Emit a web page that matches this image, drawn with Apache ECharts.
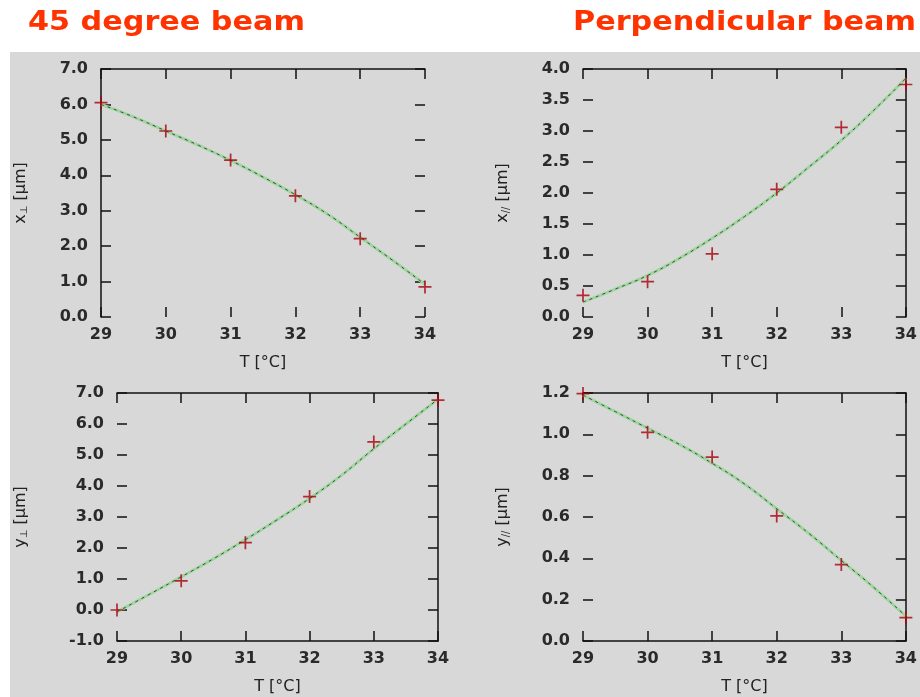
<!DOCTYPE html>
<html>
<head>
<meta charset="utf-8">
<script src="https://cdn.jsdelivr.net/npm/echarts@6/dist/echarts.min.js"></script>
<style>
  html, body { margin: 0; padding: 0; background: #fff; }
  #panel-bg { position: absolute; left: 10px; top: 52px; width: 910px; height: 645px; background: #d8d8d8; }
  #chart { position: absolute; left: 0; top: 0; width: 920px; height: 697px; }
</style>
</head>
<body>
<div id="panel-bg"></div>
<div id="chart"></div>
<script>
// temperatures of the measurements and of the fitted curve
const tempTicks = [29, 30, 31, 32, 33, 34];
const fitTemps = [29, 29.5, 30, 30.5, 31, 31.5, 32, 32.5, 33, 33.5, 34];

// 45 degree beam, x
const x45Meas = [6.05, 5.25, 4.43, 3.42, 2.21, 0.85];
const x45Fit = [6.0, 5.65, 5.25, 4.85, 4.42, 3.95, 3.45, 2.9, 2.25, 1.6, 0.92];
// perpendicular beam, x
const xPerpMeas = [0.35, 0.57, 1.02, 2.06, 3.06, 3.75];
const xPerpFit = [0.24, 0.45, 0.67, 0.95, 1.27, 1.62, 2.0, 2.42, 2.85, 3.33, 3.85];
// 45 degree beam, y
const y45Meas = [0.0, 0.94, 2.17, 3.66, 5.42, 6.77];
const y45Fit = [-0.06, 0.5, 1.07, 1.65, 2.27, 2.92, 3.6, 4.35, 5.2, 6.0, 6.8];
// perpendicular beam, y
const yPerpMeas = [1.197, 1.01, 0.89, 0.605, 0.37, 0.113];
const yPerpFit = [1.19, 1.11, 1.03, 0.95, 0.86, 0.76, 0.64, 0.52, 0.39, 0.26, 0.12];

const tickFont = { fontFamily: 'DejaVu Sans', fontWeight: 'bold', fontSize: 16, color: '#2a2a2a' };
const nameFont = { fontFamily: 'DejaVu Sans', fontSize: 16, color: '#222' };

const xAxes = [], yAxes = [], grids = [], series = [];

function addPanel(box, meas, fit, yMin, yMax, yStep, yVar, ySub, yNameGap, lines) {
  const i = grids.length;
  grids.push(box);
  const lineStyle = { color: '#111', width: 1.5 };
  const tick = { show: true, inside: true, length: 10, lineStyle: { color: '#111', width: 1.5 } };
  xAxes.push({
    type: 'value', gridIndex: i, position: 'bottom', min: 29, max: 34, interval: 1,
    axisLine: { show: lines.bottom, onZero: false, lineStyle }, axisTick: tick,
    axisLabel: Object.assign({ margin: 10 }, tickFont),
    splitLine: { show: false },
    name: 'T [°C]', nameLocation: 'middle', nameGap: 38, nameTextStyle: nameFont
  });
  xAxes.push({
    type: 'value', gridIndex: i, position: 'top', min: 29, max: 34, interval: 1,
    axisLine: { show: lines.top, onZero: false, lineStyle }, axisTick: tick,
    axisLabel: { show: false }, splitLine: { show: false }
  });
  yAxes.push({
    type: 'value', gridIndex: i, position: 'left', min: yMin, max: yMax, interval: yStep,
    axisLine: { show: lines.left, onZero: false, lineStyle }, axisTick: tick,
    axisLabel: Object.assign({ margin: 13, formatter: v => v.toFixed(1) }, tickFont),
    splitLine: { show: false },
    name: '{v|' + yVar + '}{s|' + ySub + '} [μm]', nameLocation: 'middle', nameGap: yNameGap,
    nameTextStyle: Object.assign({}, nameFont, {
      rich: {
        v: { fontFamily: 'DejaVu Sans', fontSize: 16, color: '#222' },
        s: { fontFamily: 'DejaVu Sans', fontSize: 10, color: '#222', padding: [6, 0, 0, 0] }
      }
    })
  });
  yAxes.push({
    type: 'value', gridIndex: i, position: 'right', min: yMin, max: yMax, interval: yStep,
    axisLine: { show: lines.right, onZero: false, lineStyle }, axisTick: tick,
    axisLabel: { show: false }, splitLine: { show: false }
  });
  const xi = 2 * i, yi = 2 * i;
  const fitData = fitTemps.map((t, k) => [t, fit[k]]);
  series.push({
    type: 'line', xAxisIndex: xi, yAxisIndex: yi, data: fitData, smooth: true,
    symbol: 'none', lineStyle: { color: '#9fd69f', width: 3 }, z: 3, silent: true
  });
  series.push({
    type: 'line', xAxisIndex: xi, yAxisIndex: yi, data: fitData, smooth: true,
    symbol: 'none', lineStyle: { color: '#3c4a3c', width: 1, type: [3, 4] }, z: 4, silent: true
  });
  series.push({
    type: 'scatter', xAxisIndex: xi, yAxisIndex: yi, clip: false,
    data: tempTicks.map((t, k) => [t, meas[k]]),
    symbol: 'path://M0,5.2h12v1.6h-12z M5.2,0h1.6v12h-1.6z', symbolSize: 13,
    itemStyle: { color: '#a8000c' }, z: 5
  });
}

addPanel({ left: 101, top: 69, width: 324, height: 248 }, x45Meas, x45Fit, 0, 7, 1, 'x', '⊥', 72,
  { left: true, top: true, right: false, bottom: false });
addPanel({ left: 583, top: 69, width: 324, height: 248 }, xPerpMeas, xPerpFit, 0, 4, 0.5, 'x', '//', 72,
  { left: false, top: true, right: true, bottom: false });
addPanel({ left: 117, top: 393, width: 321, height: 248 }, y45Meas, y45Fit, -1, 7, 1, 'y', '⊥', 88,
  { left: false, top: true, right: true, bottom: true });
addPanel({ left: 583, top: 393, width: 324, height: 248 }, yPerpMeas, yPerpFit, 0, 1.2, 0.2, 'y', '//', 72,
  { left: false, top: true, right: true, bottom: true });

const chart = echarts.init(document.getElementById('chart'));
chart.setOption({
  animation: false,
  backgroundColor: 'transparent',
  grid: grids,
  xAxis: xAxes,
  yAxis: yAxes,
  series: series,
  graphic: [
    { type: 'text', x: 28, y: 23, scaleX: 1.12,
      style: { text: '45 degree beam', font: 'bold 27px "DejaVu Sans"', fill: '#ff3300', textVerticalAlign: 'middle' } },
    { type: 'text', x: 573, y: 23, scaleX: 1.12,
      style: { text: 'Perpendicular beam', font: 'bold 27px "DejaVu Sans"', fill: '#ff3300', textVerticalAlign: 'middle' } }
  ]
});
</script>
</body>
</html>
